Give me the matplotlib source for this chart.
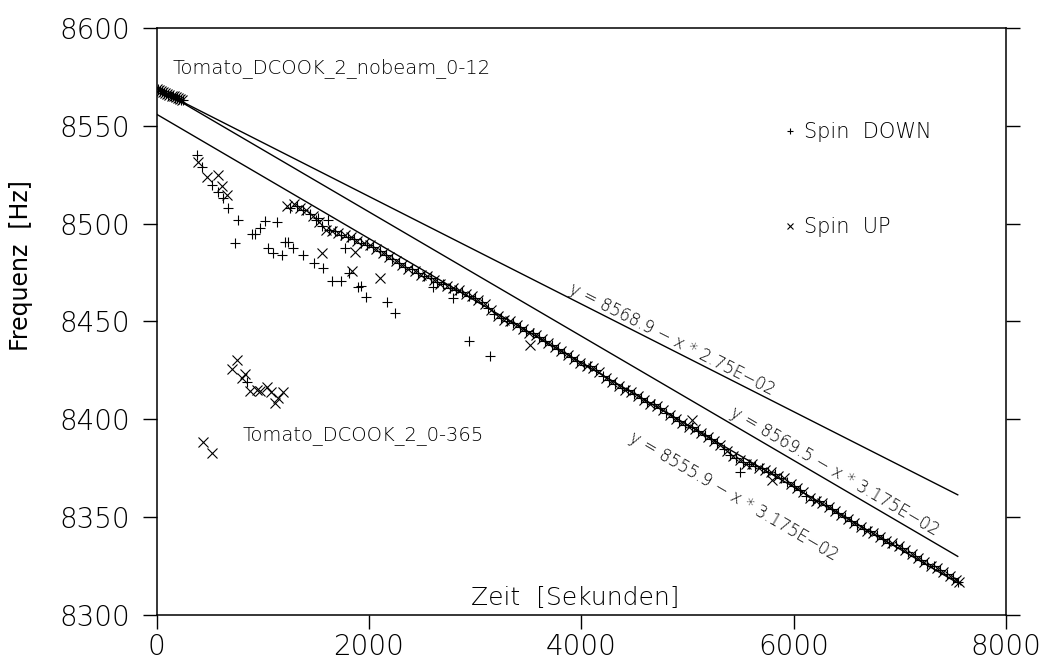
import matplotlib.pyplot as plt
import numpy as np
from matplotlib.lines import Line2D

plt.rcParams['font.family'] = ['DejaVu Sans']
plt.rcParams['font.weight'] = 200

# Spin UP (x markers): time [s], frequency [Hz]
up_t = [0, 20, 40, 60, 80, 100, 120, 140, 160, 180, 200, 220, 240,
        390, 471, 575, 612, 660,
        437, 521, 709, 757, 804, 832, 879, 945, 973, 1039, 1077, 1114, 1143, 1190,
        1557, 1839, 1867, 2103, 3515, 5042, 5795,
        1230, 1290, 1350, 1410, 1470, 1530, 1590, 1650, 1710, 1770, 1830, 1890, 1950,
        2010, 2070, 2130, 2190, 2250, 2310, 2370, 2430, 2490, 2550, 2610, 2670, 2730,
        2790, 2850, 2910, 2970, 3030, 3090, 3150, 3210, 3270, 3330, 3390, 3450, 3510,
        3570, 3630, 3690, 3750, 3810, 3870, 3930, 3990, 4050, 4110, 4170, 4230, 4290,
        4350, 4410, 4470, 4530, 4590, 4650, 4710, 4770, 4830, 4890, 4950, 5010, 5070,
        5130, 5190, 5250, 5310, 5370, 5430, 5490, 5550, 5610, 5670, 5730, 5790, 5850,
        5910, 5970, 6030, 6090, 6150, 6210, 6270, 6330, 6390, 6450, 6510, 6570, 6630,
        6690, 6750, 6810, 6870, 6930, 6990, 7050, 7110, 7170, 7230, 7290, 7350, 7410,
        7470, 7530, 7560]
up_f = [8569, 8568.5, 8568, 8567.5, 8567, 8566.5, 8566, 8565.5, 8565, 8564.5, 8564, 8563.5, 8563,
        8531.5, 8524, 8525, 8519, 8514.7,
        8388.4, 8382.8, 8425.7, 8430.3, 8421.1, 8423.2, 8414.5, 8415, 8414.5, 8416.5, 8414, 8408.4, 8410.9, 8414,
        8485, 8475.8, 8485.5, 8472.2, 8438, 8399.7, 8369,
        8509, 8510, 8508, 8507, 8504, 8501, 8497, 8496, 8495, 8494, 8493, 8491, 8490,
        8489, 8487, 8485, 8483, 8481, 8479, 8477, 8476, 8474, 8473, 8471, 8469, 8468,
        8467, 8466, 8464, 8463, 8461, 8459, 8456, 8453, 8451, 8450, 8448, 8446, 8444,
        8443, 8441, 8439, 8437, 8435, 8433, 8431, 8429, 8427, 8426, 8424, 8421, 8419,
        8417, 8415, 8414, 8412, 8410, 8408, 8407, 8405, 8402, 8400, 8398, 8396, 8395,
        8393, 8391, 8389, 8387, 8384, 8381, 8379, 8377, 8377, 8375, 8374, 8373, 8371,
        8370, 8367, 8365, 8363, 8360, 8358, 8357, 8355, 8353, 8351, 8349, 8347, 8345,
        8343, 8342, 8340, 8338, 8337, 8335, 8333, 8331, 8329, 8327, 8325, 8324, 8322,
        8320, 8318, 8317]

# Spin DOWN (+ markers)
down_t = [10, 30, 50, 70, 90, 110, 130, 150, 170, 190, 210, 230, 250,
          379, 426, 521, 577, 628, 673, 740, 768, 851, 898, 926, 973, 1020, 1049, 1095,
          1130, 1180, 1208, 1237, 1284, 1378, 1482, 1519, 1566, 1613, 1651, 1736, 1773,
          1811, 1896, 1924, 1971, 2169, 2244, 2606, 2790, 2941, 3139, 5493,
          1260, 1320, 1380, 1440, 1500, 1560, 1620, 1680, 1740, 1800, 1860, 1920, 1980,
          2040, 2100, 2160, 2220, 2280, 2340, 2400, 2460, 2520, 2580, 2640, 2700, 2760,
          2820, 2880, 2940, 3000, 3060, 3120, 3180, 3240, 3300, 3360, 3420, 3480, 3540,
          3600, 3660, 3720, 3780, 3840, 3900, 3960, 4020, 4080, 4140, 4200, 4260, 4320,
          4380, 4440, 4500, 4560, 4620, 4680, 4740, 4800, 4860, 4920, 4980, 5040, 5100,
          5160, 5220, 5280, 5340, 5400, 5460, 5520, 5580, 5640, 5700, 5760, 5820, 5880,
          5940, 6000, 6060, 6120, 6180, 6240, 6300, 6360, 6420, 6480, 6540, 6600, 6660,
          6720, 6780, 6840, 6900, 6960, 7020, 7080, 7140, 7200, 7260, 7320, 7380, 7440,
          7500, 7550]
down_f = [8569, 8568, 8568, 8567, 8567, 8566, 8565.5, 8565, 8564, 8564, 8563.5, 8563, 8563,
          8535, 8529, 8520, 8516, 8513, 8508, 8490, 8502, 8419.1, 8494.7, 8494.7, 8498, 8501.4, 8487.6, 8485,
          8501, 8484, 8490.6, 8490.6, 8487.6, 8484, 8480, 8503, 8477.3, 8502, 8470.7, 8470.7, 8487.6,
          8474.8, 8467.6, 8468.1, 8462.5, 8460, 8454.3, 8467.6, 8462, 8440, 8432.4, 8373,
          8508, 8509, 8507, 8505, 8502, 8499, 8497, 8496, 8494, 8493, 8492, 8490, 8489,
          8488, 8486, 8484, 8482, 8480, 8478, 8477, 8475, 8473, 8472, 8470, 8469, 8467,
          8466, 8465, 8463, 8462, 8460, 8457, 8454, 8452, 8450, 8449, 8447, 8445, 8444,
          8442, 8440, 8438, 8436, 8434, 8432, 8430, 8428, 8427, 8425, 8422, 8420, 8418,
          8416, 8415, 8413, 8411, 8409, 8408, 8406, 8403, 8401, 8399, 8397, 8396, 8394,
          8392, 8390, 8388, 8385, 8382, 8380, 8378, 8377, 8376, 8375, 8373, 8372, 8370,
          8368, 8366, 8364, 8361, 8359, 8358, 8356, 8354, 8352, 8350, 8348, 8346, 8344,
          8343, 8341, 8339, 8337, 8336, 8334, 8332, 8330, 8328, 8326, 8325, 8323, 8321,
          8319, 8317]

# fit lines: y = a - x * b
fit_a = [8568.9, 8569.5, 8555.9]
fit_b = [2.75e-02, 3.175e-02, 3.175e-02]
fit_labels = ['y = 8568.9 − x * 2.75E−02',
              'y = 8569.5 − x * 3.175E−02',
              'y = 8555.9 − x * 3.175E−02']
fit_label_x = [3873, 5390, 4438]
fit_label_y = [8465.1, 8401.7, 8388.9]
fit_x_end = 7545

fig = plt.figure(figsize=(10.42, 6.59), dpi=100)
ax = fig.add_axes([0.1504, 0.0668, 0.8151, 0.8907])

ax.plot(down_t, down_f, '+', color='black', markersize=7, markeredgewidth=0.8)
ax.plot(up_t, up_f, 'x', color='black', markersize=7, markeredgewidth=0.8)

xs = np.array([0, fit_x_end])
for a, b in zip(fit_a, fit_b):
    ax.plot(xs, a - xs * b, color='black', linewidth=1.0)

ax.set_xlim(0, 8000)
ax.set_ylim(8300, 8600)

for a, b, s, lx, ly in zip(fit_a, fit_b, fit_labels, fit_label_x, fit_label_y):
    ax.text(lx, ly, s, fontsize=12, rotation=np.degrees(np.arctan(-b)),
            transform_rotates_text=True, rotation_mode='anchor',
            ha='left', va='baseline')

ax.text(153, 8579.6, 'Tomato_DCOOK_2_nobeam_0-12', fontsize=14, ha='left', va='center')
ax.text(813, 8391.5, 'Tomato_DCOOK_2_0-365', fontsize=14, ha='left', va='center')
ax.text(3939, 8308.7, 'Zeit  [Sekunden]', fontsize=18, ha='center', va='center')

ax.set_ylabel('Frequenz  [Hz]', fontsize=17)
ax.yaxis.set_label_coords(-0.1457, 0.596)

handles = [Line2D([], [], marker='+', linestyle='none', color='black', markersize=5, markeredgewidth=0.8),
           Line2D([], [], marker='x', linestyle='none', color='black', markersize=4, markeredgewidth=0.8)]
ax.legend(handles, ['Spin  DOWN', 'Spin  UP'], loc='upper left', bbox_to_anchor=(0.74, 0.84),
          frameon=False, fontsize=15, handlelength=0.5, handletextpad=0.4,
          labelspacing=3.6, borderpad=0, borderaxespad=0)

ax.set_xticks([0, 2000, 4000, 6000, 8000])
ax.set_yticks([8300, 8350, 8400, 8450, 8500, 8550, 8600])
ax.tick_params(direction='out', length=10, width=1, labelsize=20)
ax.tick_params(axis='y', right=True, pad=9)
ax.tick_params(axis='x', pad=3)
for sp in ax.spines.values():
    sp.set_linewidth(1.1)

plt.savefig('out.png', dpi=100)
